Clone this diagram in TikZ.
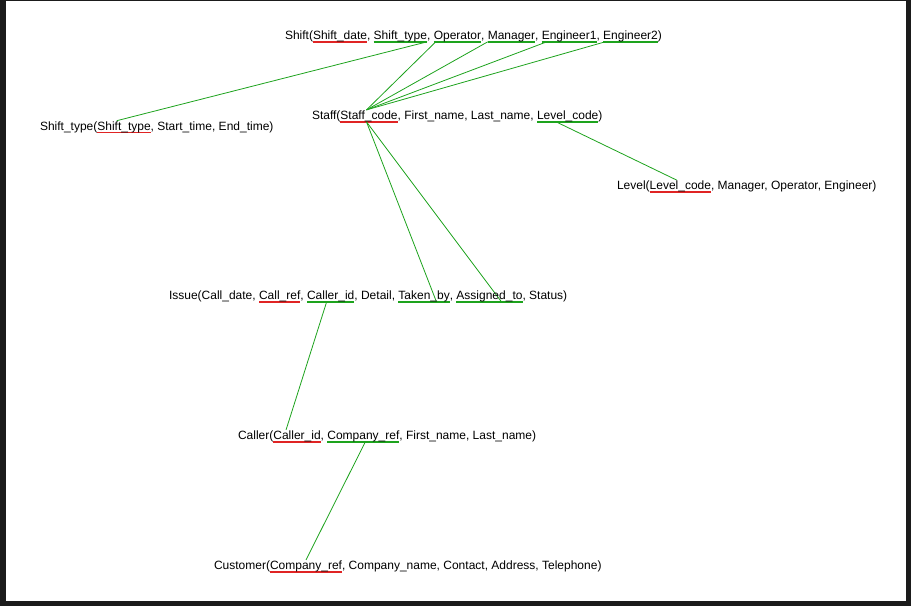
\documentclass[tikz,border=0pt]{standalone}
\usepackage{fontspec}
\setmainfont{Liberation Sans}
\newcommand{\relfont}{\fontsize{12}{14}\selectfont}
\newcommand{\sep}{,\ \mbox{}}
\definecolor{frame}{HTML}{1B1B1B}
\definecolor{fkgreen}{HTML}{1DA31D}
\definecolor{pkred}{HTML}{E02424}
\pgfdeclarelayer{back}
\pgfsetlayers{back,main}
\tikzset{
  txt/.style={inner sep=0pt, outer sep=0pt, text height=9.7pt, text depth=2.2pt,
              anchor=base west, font=\relfont},
  fkline/.style={draw=fkgreen, line width=1.6pt},
  pkline/.style={draw=pkred, line width=1.6pt},
  conn/.style={draw=fkgreen, line width=0.8pt}
}
\begin{document}
\begin{tikzpicture}[x=1pt, y=-1pt]
\useasboundingbox (0,0) rectangle (911,606);

% Shift
\node[txt] (sh0) at (285,39.6) {Shift(};
\node[txt] (shdate) at (sh0.base east) {Shift\_date};
\node[txt] (sh1) at (shdate.base east) {\sep};
\node[txt] (shtype) at (sh1.base east) {Shift\_type};
\node[txt] (sh2) at (shtype.base east) {\sep};
\node[txt] (shop) at (sh2.base east) {Operator};
\node[txt] (sh3) at (shop.base east) {\sep};
\node[txt] (shmg) at (sh3.base east) {Manager};
\node[txt] (sh4) at (shmg.base east) {\sep};
\node[txt] (she1) at (sh4.base east) {Engineer1};
\node[txt] (sh5) at (she1.base east) {\sep};
\node[txt] (she2) at (sh5.base east) {Engineer2};
\node[txt] (sh6) at (she2.base east) {)};

% Shift_type
\node[txt] (st0) at (40,130.4) {Shift\_type(};
\node[txt] (stpk) at (st0.base east) {Shift\_type};
\node[txt] (st1) at (stpk.base east) {, Start\_time, End\_time)};

% Staff
\node[txt] (sf0) at (312,119.6) {Staff(};
\node[txt] (sfpk) at (sf0.base east) {Staff\_code};
\node[txt] (sf1) at (sfpk.base east) {, First\_name, Last\_name\sep};
\node[txt] (sflc) at (sf1.base east) {Level\_code};
\node[txt] (sf2) at (sflc.base east) {)};

% Level
\node[txt] (lv0) at (617,189.8) {Level(};
\node[txt] (lvpk) at (lv0.base east) {Level\_code};
\node[txt] (lv1) at (lvpk.base east) {, Manager, Operator, Engineer)};

% Issue
\node[txt] (is0) at (169,299.6) {Issue(Call\_date\sep};
\node[txt] (isref) at (is0.base east) {Call\_ref};
\node[txt] (is1) at (isref.base east) {\sep};
\node[txt] (isci) at (is1.base east) {Caller\_id};
\node[txt] (is2) at (isci.base east) {, Detail\sep};
\node[txt] (istb) at (is2.base east) {Taken\_by};
\node[txt] (is3) at (istb.base east) {\sep};
\node[txt] (isas) at (is3.base east) {Assigned\_to};
\node[txt] (is4) at (isas.base east) {, Status)};

% Caller
\node[txt] (ca0) at (238,439.6) {Caller(};
\node[txt] (capk) at (ca0.base east) {Caller\_id};
\node[txt] (ca1) at (capk.base east) {\sep};
\node[txt] (cacr) at (ca1.base east) {Company\_ref};
\node[txt] (ca2) at (cacr.base east) {, First\_name, Last\_name)};

% Customer
\node[txt] (cu0) at (214,569.6) {Customer(};
\node[txt] (cupk) at (cu0.base east) {Company\_ref};
\node[txt] (cu1) at (cupk.base east) {, Company\_name, Contact, Address, Telephone)};

\begin{pgfonlayer}{back}
\fill[frame] (0,0) rectangle (911,606);
\fill[white] (6,1) rectangle (906,601);
% primary key underlines
\foreach \k in {shdate,stpk,sfpk,lvpk,isref,capk,cupk}
  \draw[pkline] (\k.south west) -- (\k.south east);
% foreign key underlines
\foreach \k in {shtype,shop,shmg,she1,she2,sflc,isci,istb,isas,cacr}
  \draw[fkline] (\k.south west) -- (\k.south east);

% connectors
\draw[conn] (shtype.south east) -- ([xshift=19.4pt]stpk.north west);
\draw[conn] ([xshift=2pt]shop.south west) -- ([xshift=26pt]sfpk.north west);
\draw[conn] (shmg.south west) -- ([xshift=26pt]sfpk.north west);
\draw[conn] ([xshift=5pt]she1.south west) -- ([xshift=26pt]sfpk.north west);
\draw[conn] ([xshift=2pt]she2.south west) -- ([xshift=26pt]sfpk.north west);
\draw[conn] ([xshift=19pt]sflc.south west) -- ([xshift=27pt]lvpk.north west);
\draw[conn] ([xshift=26pt]sfpk.south west) -- ([xshift=38pt]istb.south west);
\draw[conn] ([xshift=26pt]sfpk.south west) -- ([xshift=45pt]isas.south west);
\draw[conn] ([xshift=19.6pt]isci.south west) -- ([xshift=12.7pt]capk.north west);
\draw[conn] ([xshift=38pt]cacr.south west) -- (cupk.north);
\end{pgfonlayer}
\end{tikzpicture}
\end{document}
